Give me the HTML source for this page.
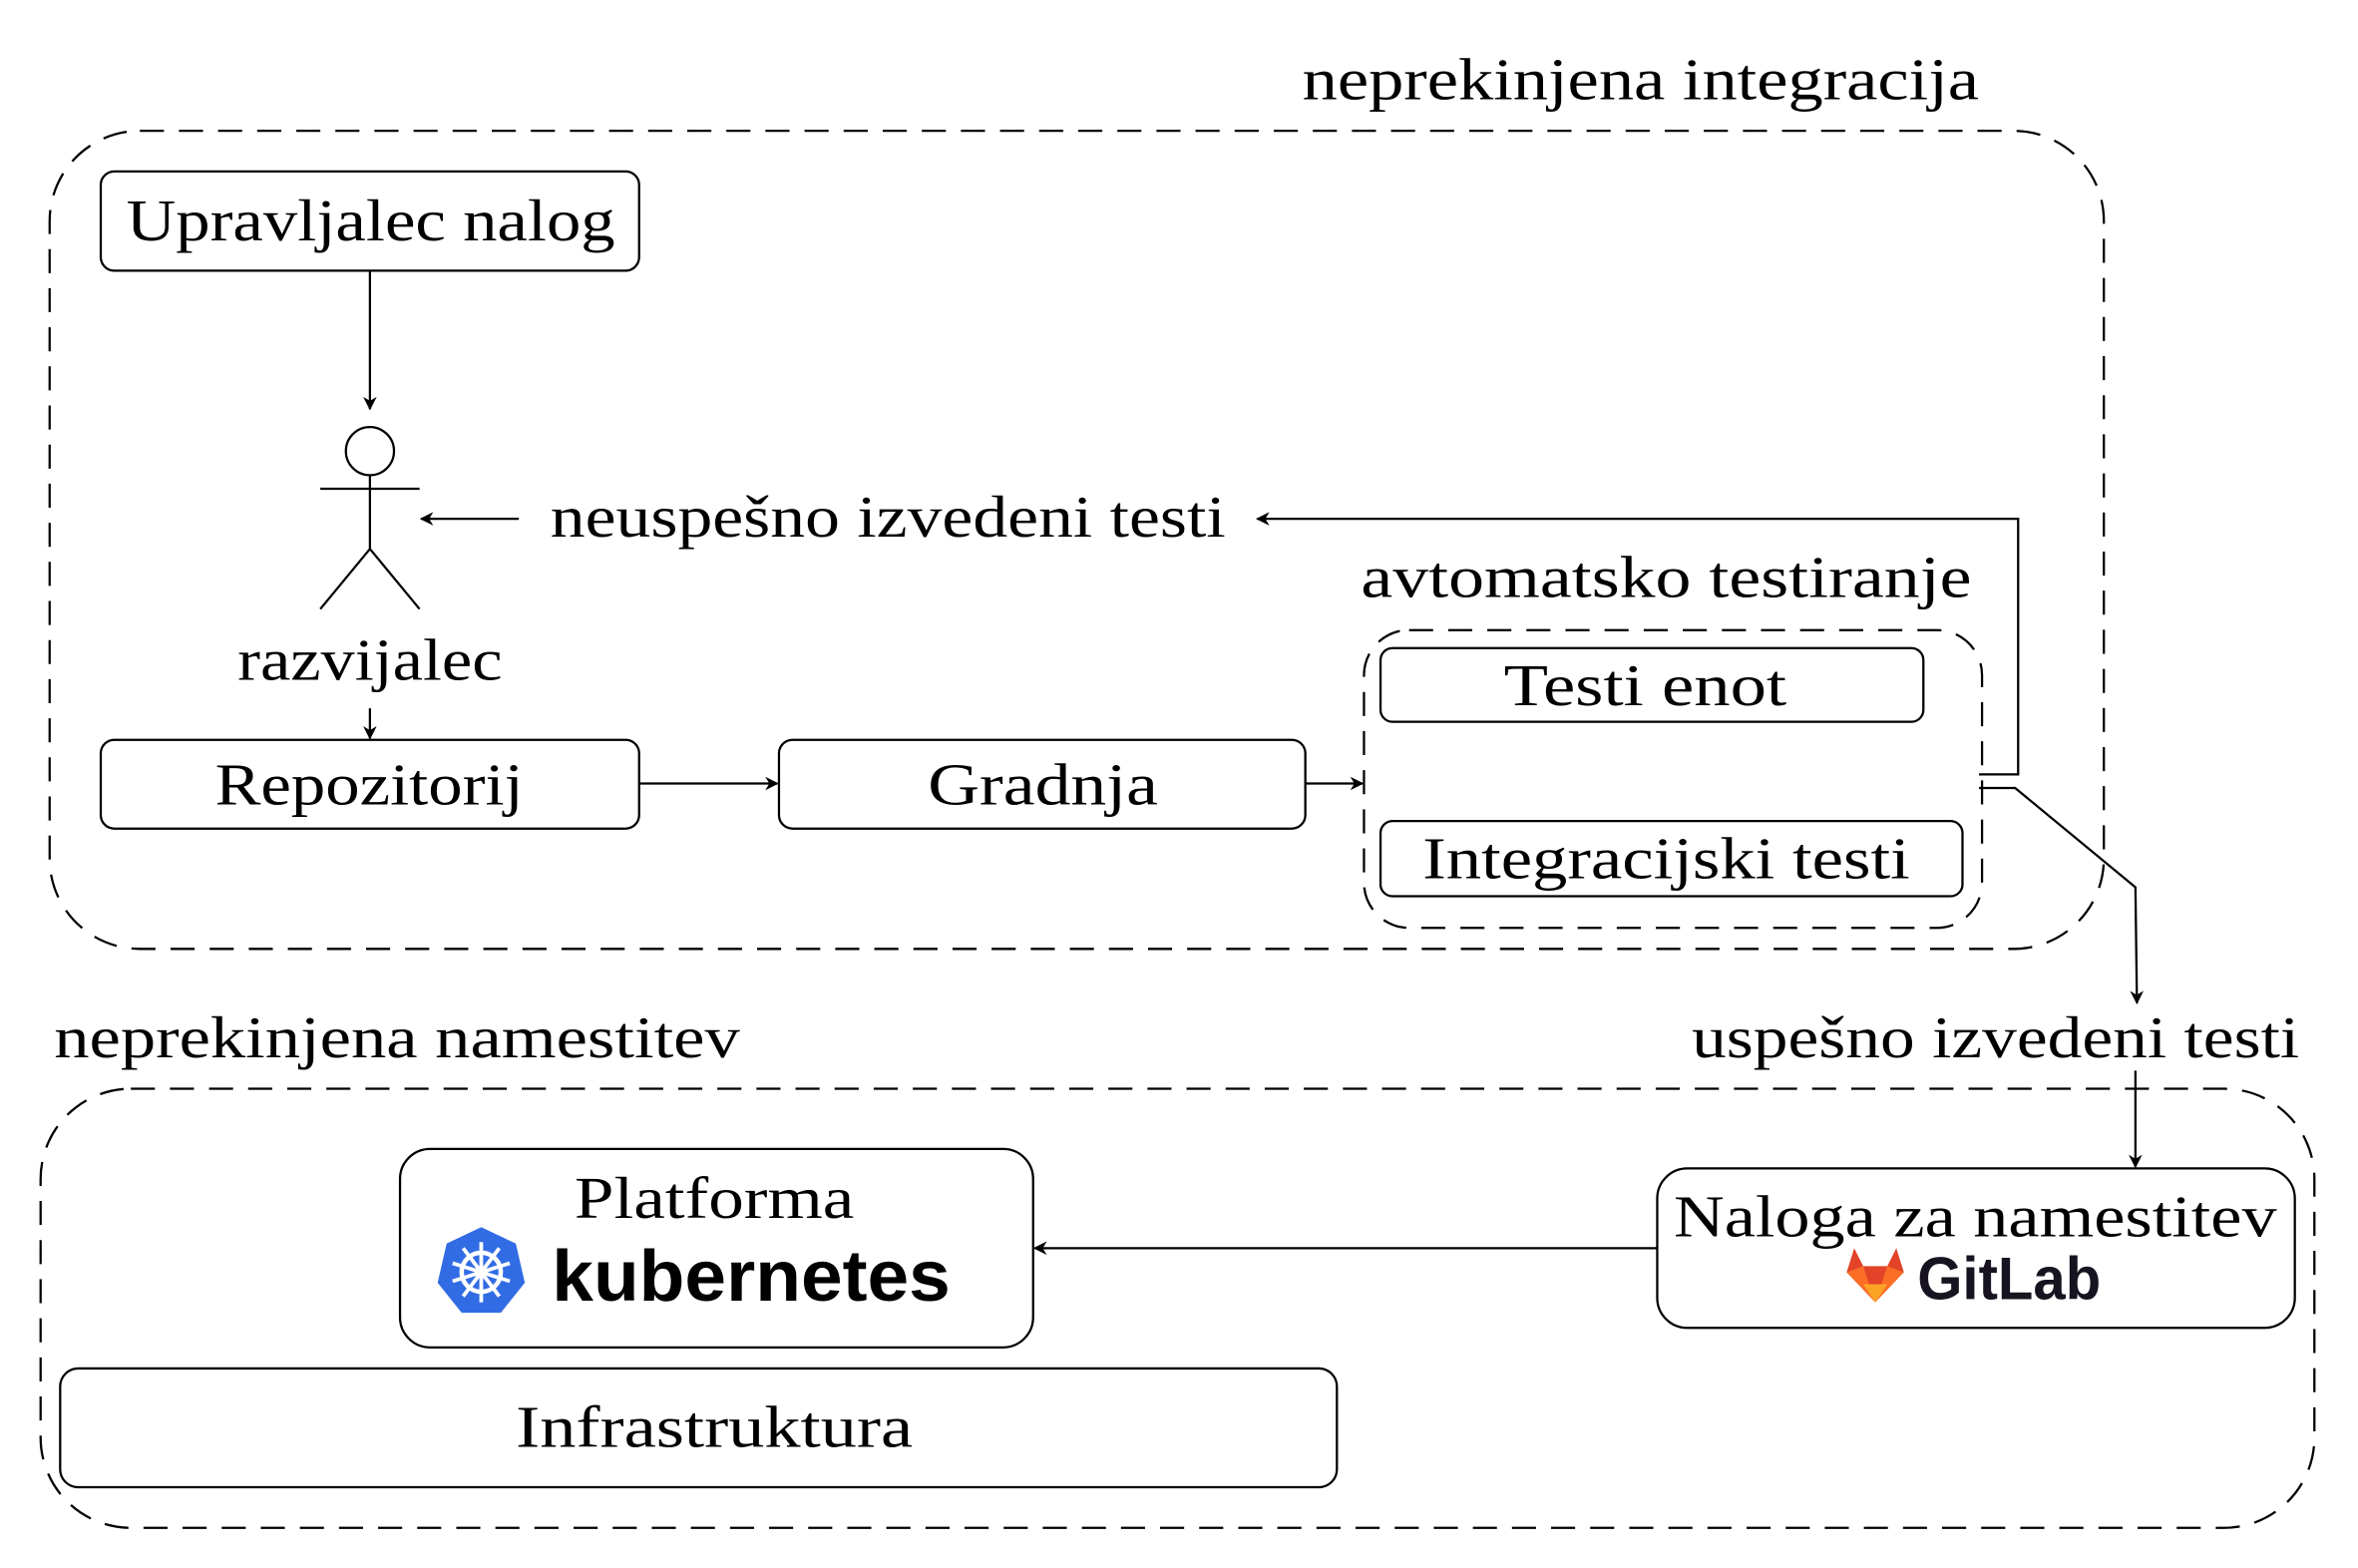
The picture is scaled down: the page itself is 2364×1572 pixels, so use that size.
<!DOCTYPE html>
<html><head><meta charset="utf-8"><style>html,body{margin:0;padding:0;background:#fff}svg{display:block}</style></head>
<body>
<svg xmlns="http://www.w3.org/2000/svg" width="2364" height="1572" viewBox="0 0 1568 1042.7" preserveAspectRatio="none">
<defs>
<marker id="a" viewBox="0 0 10 10" refX="9" refY="5" markerWidth="9" markerHeight="9" orient="auto" markerUnits="userSpaceOnUse"><path d="M0,0 L10,5 L0,10 L3,5 Z" fill="#000"/></marker>
</defs>
<g fill="none" stroke="#000" stroke-width="1.5">
<rect x="33" y="87" width="1366" height="544" rx="60" stroke-dasharray="16 10"/>
<rect x="907" y="419" width="411" height="198" rx="30" stroke-dasharray="16 10"/>
<rect x="27" y="724" width="1512" height="292" rx="60" stroke-dasharray="16 10"/>
<rect x="67" y="114" width="358" height="66" rx="9"/>
<rect x="67" y="492" width="358" height="59" rx="9"/>
<rect x="518" y="492" width="350" height="59" rx="9"/>
<rect x="918" y="431" width="361" height="49" rx="8"/>
<rect x="918" y="546" width="387" height="50" rx="8"/>
<rect x="266" y="764" width="421" height="132" rx="20"/>
<rect x="1102" y="777" width="424" height="106" rx="20"/>
<rect x="40" y="910" width="849" height="79" rx="12"/>
<circle cx="246" cy="300" r="16"/>
<path d="M246,316 V365 M213,325 H279 M246,365 L213,405 M246,365 L279,405"/>
<path d="M246,180 V272" marker-end="url(#a)"/>
<path d="M345,345 H280" marker-end="url(#a)"/>
<path d="M1316,515 H1342 V345 H836" marker-end="url(#a)"/>
<path d="M246,471 V491" marker-end="url(#a)"/>
<path d="M425,521 H517" marker-end="url(#a)"/>
<path d="M868,521 H906" marker-end="url(#a)"/>
<path d="M1316,524 H1340 L1420,590 L1421,667" marker-end="url(#a)"/>
<path d="M1420,712 V776" marker-end="url(#a)"/>
<path d="M1102,830 H688" marker-end="url(#a)"/>
</g>
<g font-family="Liberation Serif, serif" font-size="39" fill="#000">
<text x="866" y="66" textLength="450" lengthAdjust="spacingAndGlyphs">neprekinjena integracija</text>
<text x="84" y="160" textLength="325" lengthAdjust="spacingAndGlyphs">Upravljalec nalog</text>
<text x="366" y="357" textLength="449" lengthAdjust="spacingAndGlyphs">neuspešno izvedeni testi</text>
<text x="905" y="397" textLength="406" lengthAdjust="spacingAndGlyphs">avtomatsko testiranje</text>
<text x="158" y="452" textLength="176" lengthAdjust="spacingAndGlyphs">razvijalec</text>
<text x="143" y="535" textLength="205" lengthAdjust="spacingAndGlyphs">Repozitorij</text>
<text x="617" y="535" textLength="153" lengthAdjust="spacingAndGlyphs">Gradnja</text>
<text x="1000" y="469" textLength="188" lengthAdjust="spacingAndGlyphs">Testi enot</text>
<text x="946" y="584" textLength="324" lengthAdjust="spacingAndGlyphs">Integracijski testi</text>
<text x="36" y="703" textLength="456" lengthAdjust="spacingAndGlyphs">neprekinjena namestitev</text>
<text x="1125" y="703" textLength="404" lengthAdjust="spacingAndGlyphs">uspešno izvedeni testi</text>
<text x="382" y="810" textLength="186" lengthAdjust="spacingAndGlyphs">Platforma</text>
<text x="1113" y="822" textLength="401" lengthAdjust="spacingAndGlyphs">Naloga za namestitev</text>
<text x="343" y="962" textLength="264" lengthAdjust="spacingAndGlyphs">Infrastruktura</text>
</g>
<g transform="translate(320,846)">
<polygon points="0,-30 23,-19 29,7 13,27 -13,27 -29,7 -23,-19" fill="#326ce5"/>
<circle r="13" fill="none" stroke="#fff" stroke-width="3"/>
<g stroke="#fff" stroke-width="2.5"><path d="M0,-20 V20 M-19,-6 L19,6 M-19,6 L19,-6 M-12,16 L12,-16 M12,16 L-12,-16"/></g>
<circle r="4" fill="#fff"/>
</g>
<text x="367" y="865" font-family="Liberation Sans, sans-serif" font-weight="bold" font-size="48" textLength="265" lengthAdjust="spacingAndGlyphs" fill="#000">kubernetes</text>
<g transform="translate(1247,848)">
<polygon points="-19,-2 -14,-18 -8,-6 8,-6 14,-18 19,-2 0,18" fill="#e24329"/>
<polygon points="-19,-2 -8,-6 0,18" fill="#fc6d26"/>
<polygon points="19,-2 8,-6 0,18" fill="#fc6d26"/>
<polygon points="-8,6 8,6 0,18" fill="#fca326"/>
</g>
<text x="1275" y="864" font-family="Liberation Sans, sans-serif" font-weight="bold" font-size="40" textLength="122" lengthAdjust="spacingAndGlyphs" fill="#171321">GitLab</text>
</svg>
</body></html>
